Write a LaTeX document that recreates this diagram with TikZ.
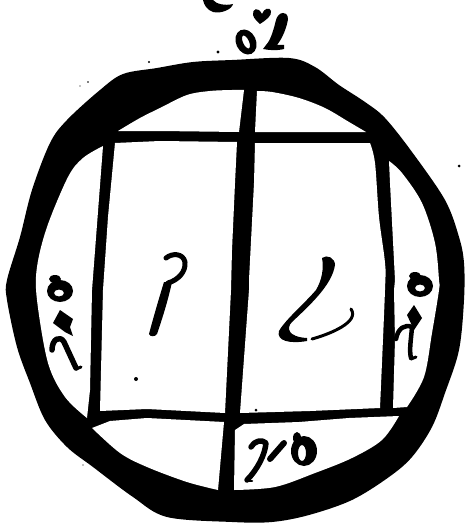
\documentclass[tikz,border=0pt]{standalone}
\tikzset{
  ink/.style={fill=black,draw=none},
  cell/.style={fill=white,draw=none},
  arc/.style={smooth,tension=0.55},
  pen/.style={draw=black,line cap=round,line join=round,fill=none}
}
\begin{document}
\begin{tikzpicture}[x=1pt,y=-1pt]
\useasboundingbox (0,0) rectangle (464,524);
\fill[white] (0,0) rectangle (464,524);
% disc: outer edge of the ring
\fill[black] plot[smooth cycle,tension=0.55] coordinates {(7,280)(20,237)(32,190)(50,143)(67,120)(100,90)(123,74)(157,68)(193,62)(232,60)(289,58)(315,67)(339,85)(365,102)(385,118)(412,152)(445,200)(459,237)(464,263)(464,300)(459,350)(445,393)(432,427)(412,457)(389,477)(352,500)(309,515)(272,522)(232,522)(167,517)(133,497)(93,467)(67,447)(45,420)(30,383)(17,347)(7,300)};
% the eight white cells
\path[cell] plot[arc] coordinates {(118,131)(140,118)(160,108)(187,95)(210,91)(232,90)(244,90)} -- (239,132) -- (160,131) -- cycle;
\path[cell] plot[arc] coordinates {(257,91)(272,92)(299,98)(325,108)(349,122)(366,132)} -- (255,132) -- cycle;
\path[cell] (115,143) -- (160,141) -- (237,142) -- (235,183) -- (232,250) -- (231,290) -- (225,413) -- (147,409) -- (100,411) -- (103,290) -- (108,217) -- cycle;
\path[cell] plot[arc] coordinates {(370,143)(375,163)(379,217)(385,263)(385,290)(380,408)} -- (310,411) -- (240,413) -- (249,290) -- (249,280) -- (254,183) -- (255,143) -- cycle;
\path[cell] plot[arc] coordinates {(103,146)(83,158)(68,177)(47,227)(37,267)(37,300)(48,363)(65,397)(87,418)} -- (90,390) -- (92,290) -- (93,277) -- cycle;
\path[cell] plot[arc] coordinates {(389,161)(402,173)(422,203)(435,243)(439,280)(439,290)(432,333)(424,377)(407,407)} -- (393,408) -- (395,340) -- (394,290) -- (395,280) -- (390,183) -- cycle;
\path[cell] plot[arc] coordinates {(92,428)(120,453)(147,467)(187,482)(218,490)} -- (224,422) -- (147,418) -- (110,421) -- cycle;
\path[cell] plot[arc] coordinates {(399,416)(382,440)(352,458)(315,473)(275,487)(234,490)} -- (235,430) -- (244,424) -- (299,422) -- (349,418) -- cycle;
% top glyphs
\fill[ink] (203,0) -- (213,0) .. controls (216,4) and (225,6) .. (233,4) .. controls (232,9) and (222,14) .. (213,12) .. controls (207,10) and (204,5) .. (203,0) -- cycle;
\fill[ink] (262,14) .. controls (258,6) and (252,9) .. (253,15) .. controls (254,19) and (258,22) .. (260,24) .. controls (266,20) and (272,16) .. (271,11) .. controls (270,7) and (264,8) .. (262,14) -- cycle;
\fill[ink,even odd rule] (246,42) [rotate around={25:(246,42)}] ellipse [x radius=10,y radius=13] (246,42) ellipse [x radius=3,y radius=7];
\fill[ink] (283,13) .. controls (288,13) and (289,18) .. (287,24) .. controls (285,32) and (281,40) .. (277,45) -- (284,45) -- (284,49) .. controls (276,51) and (268,50) .. (263,49) -- (266,45) .. controls (271,40) and (274,28) .. (276,20) .. controls (277,16) and (280,13) .. (283,13) -- cycle;
% left glyphs
\fill[ink,even odd rule] (60,291) ellipse [x radius=13,y radius=11] (59,293) ellipse [x radius=5,y radius=3.5];
\fill[ink] (55,279) ellipse [x radius=6,y radius=4];
\fill[ink] (60,310) -- (73,319) -- (70,327) -- (73,336) -- (65,332) -- (53,323) -- cycle;
\draw[pen,line width=5.5pt] (52,350) .. controls (52,339) and (60,335) .. (64,342) -- (76,368);
\draw[pen,line width=3pt] (76,369) -- (81,367);
% centre-left glyph
\draw[pen,line width=5pt] (166,258) .. controls (172,253) and (183,253) .. (185,262) .. controls (186,272) and (178,280) .. (168,283);
\fill[ink] (164,282) -- (172,282) .. controls (167,305) and (160,325) .. (157,334) .. controls (155,337) and (150,337) .. (149,334) .. controls (154,315) and (160,295) .. (164,282) -- cycle;
% right-centre glyph
\fill[ink] (322,258) .. controls (327,254) and (335,258) .. (335,265) .. controls (332,285) and (310,305) .. (292,322) .. controls (286,328) and (288,337) .. (307,338) -- (307,341) .. controls (290,344) and (276,341) .. (279,331) .. controls (285,320) and (305,303) .. (316,290) .. controls (322,280) and (324,268) .. (322,258) -- cycle;
\draw[pen,line width=3pt] (312,339) .. controls (330,334) and (360,322) .. (351,309);
% right glyphs
\fill[ink,even odd rule] (420,286) ellipse [x radius=13,y radius=11] (420,288) ellipse [x radius=5,y radius=3.5];
\fill[ink] (415,276) ellipse [x radius=6,y radius=4];
\fill[ink] (414,305) -- (422,318) -- (414,330) -- (407,315) -- cycle;
\draw[pen,line width=4.5pt] (396,339) .. controls (398,328) and (405,324) .. (412,327) .. controls (411,340) and (409,350) .. (411,358);
\draw[pen,line width=3pt] (411,359) -- (416,357);
% bottom glyphs
\draw[pen,line width=5.5pt] (251,447) .. controls (254,441) and (262,439) .. (266,443) .. controls (265,455) and (257,470) .. (247,480);
\draw[pen,line width=2.5pt] (247,481) -- (252,481);
\draw[pen,line width=6pt] (270,459) -- (284,443);
\fill[ink,even odd rule] (304,451) ellipse [x radius=13,y radius=15] (302,453) ellipse [x radius=4,y radius=8];
\fill[ink] (297,438) ellipse [x radius=4,y radius=6];
% specks
\fill[ink] (136,379) circle (2);
\fill[ink] (218,52) circle (1.6);
\fill[ink] (459,166) circle (1.5);
\fill[ink] (149,62) circle (1.2);
\fill[ink] (88,82) circle (.8);
\fill[ink] (80,86) circle (.6);
\fill[ink] (83,465) circle (.6);
\fill[ink] (256,410) circle (1.5);
\end{tikzpicture}
\end{document}
